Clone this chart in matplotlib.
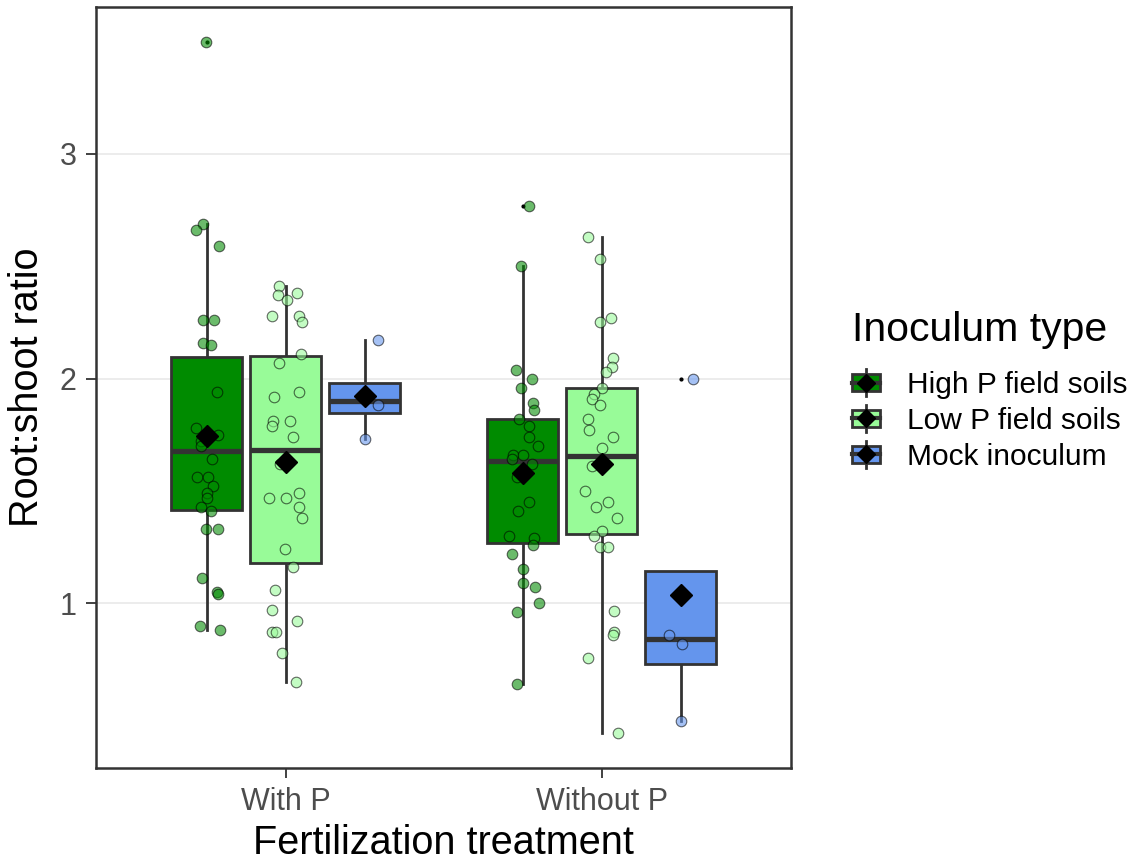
import numpy as np
import matplotlib
matplotlib.use("Agg")
import matplotlib.pyplot as plt
from matplotlib.patches import Rectangle
from matplotlib.lines import Line2D
from matplotlib.legend_handler import HandlerBase

plt.rcParams['font.family'] = ['Liberation Sans', 'DejaVu Sans']

# Fertilization treatments (x axis) and inoculum types (dodged fill)
treatments = ["With P", "Without P"]
inoculum = ["High P field soils", "Low P field soils", "Mock inoculum"]
fills = ["#008B00", "#98FB98", "#6495ED"]

# Box statistics, rows = treatment, columns = inoculum type
q1 = [[1.414, 1.178, 1.846], [1.270, 1.310, 0.728]]
med = [[1.677, 1.680, 1.900], [1.633, 1.655, 0.840]]
q3 = [[2.097, 2.100, 1.980], [1.820, 1.960, 1.143]]
means = [[1.744, 1.628, 1.922], [1.580, 1.620, 1.035]]

# Root:shoot ratios of individual plants
withP_high = [3.50, 2.69, 2.66, 2.59, 2.26, 2.26, 2.16, 2.15, 1.94, 1.78,
              1.75, 1.72, 1.70, 1.64, 1.56, 1.56, 1.52, 1.49, 1.47, 1.43,
              1.41, 1.33, 1.33, 1.11, 1.05, 1.04, 0.90, 0.88]
withP_low = [2.41, 2.37, 2.38, 2.35, 2.28, 2.28, 2.25, 2.11, 2.07, 1.92,
             1.94, 1.81, 1.79, 1.81, 1.74, 1.62, 1.47, 1.47, 1.49, 1.43,
             1.38, 1.24, 1.16, 1.06, 0.97, 0.92, 0.87, 0.87, 0.78, 0.65]
withP_mock = [2.17, 1.88, 1.73]
noP_high = [2.77, 2.50, 2.04, 2.00, 1.96, 1.89, 1.86, 1.82, 1.79, 1.74,
            1.70, 1.66, 1.66, 1.64, 1.62, 1.56, 1.45, 1.41, 1.30, 1.29,
            1.26, 1.22, 1.15, 1.09, 1.07, 1.00, 0.96, 0.64]
noP_low = [2.63, 2.53, 2.27, 2.25, 2.09, 2.05, 2.03, 1.96, 1.93, 1.91,
           1.88, 1.82, 1.77, 1.74, 1.69, 1.61, 1.50, 1.45, 1.43, 1.38,
           1.32, 1.30, 1.25, 1.25, 0.965, 0.87, 0.86, 0.755, 0.42]
noP_mock = [2.00, 0.857, 0.817, 0.475]

# horizontal jitter of each plant (x units)
withP_high_jit = [-0.003, -0.010, -0.032, 0.038, -0.010, 0.025, -0.010, 0.013, 0.032, -0.032,
                  0.035, -0.019, -0.019, 0.016, -0.029, 0.003, 0.019, 0.000, 0.000, -0.019,
                  0.013, -0.003, 0.035, -0.013, 0.032, 0.035, -0.022, 0.044]
withP_low_jit = [-0.022, -0.025, 0.035, 0.006, -0.044, 0.041, 0.051, 0.048, -0.022, -0.038,
                 0.044, -0.041, -0.044, 0.013, 0.022, -0.019, -0.051, 0.003, 0.041, 0.041,
                 0.051, -0.003, 0.025, -0.032, -0.044, 0.035, -0.044, -0.029, -0.010, 0.032]
withP_mock_jit = [0.044, 0.044, 0.000]
noP_high_jit = [0.022, -0.006, -0.022, 0.029, -0.006, 0.032, 0.035, -0.010, 0.022, 0.022,
                0.048, -0.029, 0.003, -0.032, 0.029, -0.016, 0.022, -0.013, -0.044, 0.035,
                0.032, -0.032, 0.000, 0.003, 0.041, 0.051, -0.016, -0.016]
noP_low_jit = [-0.044, -0.006, 0.029, -0.006, 0.035, 0.032, 0.013, 0.003, -0.025, -0.029,
               -0.006, -0.044, -0.041, 0.035, 0.003, -0.029, -0.051, 0.022, -0.016, 0.048,
               0.000, -0.025, -0.006, 0.019, 0.038, 0.041, 0.035, -0.044, 0.051]
noP_mock_jit = [0.041, -0.035, 0.006, 0.000]

values = [[withP_high, withP_low, withP_mock], [noP_high, noP_low, noP_mock]]
jitter = [[withP_high_jit, withP_low_jit, withP_mock_jit],
          [noP_high_jit, noP_low_jit, noP_mock_jit]]

edge = "#333333"
dodge = 0.25
box_w = 0.225

fig = plt.figure(figsize=(11.48, 8.65), dpi=100)
ax = fig.add_axes([0.0836, 0.1121, 0.6055, 0.8798])

stats, positions, box_fills = [], [], []
for i in range(len(treatments)):
    for j in range(len(inoculum)):
        y = np.array(values[i][j])
        iqr = q3[i][j] - q1[i][j]
        lo_f, hi_f = q1[i][j] - 1.5 * iqr, q3[i][j] + 1.5 * iqr
        inside = y[(y >= lo_f) & (y <= hi_f)]
        stats.append(dict(q1=q1[i][j], med=med[i][j], q3=q3[i][j],
                          mean=means[i][j],
                          whislo=min(inside.min(), q1[i][j]),
                          whishi=max(inside.max(), q3[i][j]),
                          fliers=y[(y < lo_f) | (y > hi_f)]))
        positions.append(i + 1 + (j - 1) * dodge)
        box_fills.append(fills[j])

bp = ax.bxp(stats, positions=positions, widths=box_w, patch_artist=True,
            showmeans=True, showcaps=False, manage_ticks=False,
            boxprops=dict(edgecolor=edge, linewidth=2.0, zorder=2),
            whiskerprops=dict(color=edge, linewidth=2.0, zorder=1.9),
            medianprops=dict(color=edge, linewidth=3.8, solid_capstyle='butt', zorder=2.1),
            meanprops=dict(marker='D', markerfacecolor='black', markeredgecolor='black',
                           markersize=11, zorder=4),
            flierprops=dict(marker='o', markerfacecolor='black', markeredgecolor='black',
                            markersize=2, zorder=2.2))
for patch, fc in zip(bp['boxes'], box_fills):
    patch.set_facecolor(fc)

# jittered raw points on top of the boxes
for i in range(len(treatments)):
    for j in range(len(inoculum)):
        x = i + 1 + (j - 1) * dodge + np.array(jitter[i][j])
        ax.scatter(x, values[i][j], s=58, facecolor=fills[j], edgecolor='black',
                   linewidth=0.8, alpha=0.58, zorder=3)

allv = np.concatenate([np.concatenate(v) for v in values])
span = allv.max() - allv.min()
ax.set_ylim(allv.min() - 0.05 * span, allv.max() + 0.05 * span)
ax.set_xlim(0.4, 2.6)
ax.set_xticks([1, 2])
ax.set_xticklabels(treatments)
ax.set_yticks([1, 2, 3])
ax.yaxis.grid(True, color="#EBEBEB", linewidth=1.3)
ax.set_axisbelow(True)
ax.tick_params(axis='both', colors=edge, labelcolor="#4D4D4D", labelsize=22,
               length=7, width=1.3, pad=7)
for s in ax.spines.values():
    s.set_color(edge)
    s.set_linewidth(1.8)

ax.set_xlabel("Fertilization treatment", fontsize=28.5, color='black', labelpad=5)
ax.set_ylabel("Root:shoot ratio", fontsize=28.5, color='black', labelpad=10)


class BoxKey(HandlerBase):
    def create_artists(self, legend, orig_handle, xdescent, ydescent,
                       width, height, fontsize, trans):
        fc = orig_handle.get_facecolor()
        x0, y0 = -xdescent, -ydescent
        cx, cy = x0 + width / 2, y0 + height / 2
        bh = height * 0.66
        vline = Line2D([cx, cx], [y0 - 0.05 * height, y0 + 1.05 * height],
                       color=edge, lw=2.0, transform=trans)
        rect = Rectangle((x0, cy - bh / 2), width, bh, facecolor=fc,
                         edgecolor=edge, lw=2.0, transform=trans)
        hline = Line2D([x0, x0 + width], [cy, cy], color=edge, lw=3,
                       transform=trans)
        dia = Line2D([cx], [cy], marker='D', color='black', markersize=9,
                     transform=trans)
        return [vline, rect, hline, dia]


# legend title and keys
fig.text(0.742, 0.606, "Inoculum type", fontsize=29.5, ha='left', va='baseline')
handles = [Rectangle((0, 0), 1, 1, facecolor=c) for c in fills]
leg = fig.legend(handles, inoculum, handler_map={Rectangle: BoxKey()},
                 loc='upper left', bbox_to_anchor=(0.742, 0.572),
                 frameon=False, fontsize=21.5, borderpad=0,
                 handlelength=0.95, handleheight=0.9, handletextpad=0.9,
                 labelspacing=0.24, borderaxespad=0)

fig.savefig("out.png", dpi=100)
